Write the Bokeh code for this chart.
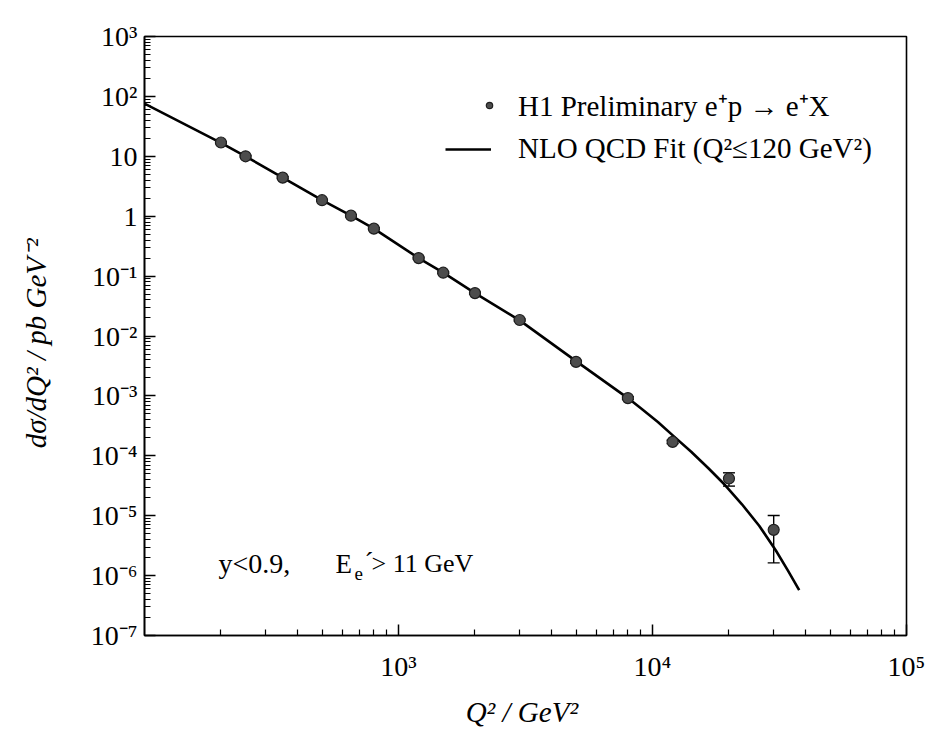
from bokeh.embed import file_html
from bokeh.models import (ColumnDataSource, CustomJSTickFormatter, FixedTicker, Label, Legend,
                          LegendItem, Whisker)
from bokeh.plotting import figure
from bokeh.resources import INLINE

# H1 preliminary e+p -> e+X neutral-current cross section dsigma/dQ^2 (pb GeV^-2)
q2 = [200, 250, 350, 500, 650, 800, 1200, 1500, 2000, 3000, 5000, 8000, 12000, 20000, 30000]
xsec = [17.0, 10.0, 4.4, 1.85, 1.02, 0.62, 0.20, 0.114, 0.052, 0.0185,
        0.0037, 9.2e-4, 1.71e-4, 4.18e-5, 5.8e-6]
xsec_hi = [17.6, 10.3, 4.55, 1.91, 1.06, 0.64, 0.207, 0.118, 0.054, 0.0192,
           0.0039, 9.7e-4, 1.82e-4, 5.2e-5, 1.01e-5]
xsec_lo = [16.4, 9.7, 4.25, 1.79, 0.98, 0.60, 0.193, 0.110, 0.050, 0.0178,
           0.0035, 8.7e-4, 1.60e-4, 3.12e-5, 1.63e-6]

# NLO QCD fit (Q^2 <= 120 GeV^2) extrapolated to high Q^2
fit_q2 = [100, 200, 250, 350, 500, 650, 800, 1200, 1500, 2000, 3000, 5000, 8000,
          9000, 10500, 12200, 14200, 16600, 19300, 22500, 26300, 30600, 34100, 37800]
fit_xsec = [76, 16.8, 10.0, 4.4, 1.85, 1.02, 0.62, 0.20, 0.114, 0.052, 0.0182, 0.0038,
            9.2e-4, 6.2e-4, 3.66e-4, 2.07e-4, 1.17e-4, 6.2e-5, 3.25e-5, 1.55e-5,
            6.8e-6, 2.62e-6, 1.22e-6, 5.7e-7]

# decade tick labels
x_decades = [3, 4, 5]
x_tick_labels = ["10\u00b3", "10\u2074", "10\u2075"]
y_decades = [3, 2, 1, 0, -1, -2, -3, -4, -5, -6, -7]
y_tick_labels = ["10\u00b3", "10\u00b2", "10", "1", "10\u207b\u00b9", "10\u207b\u00b2",
                 "10\u207b\u00b3", "10\u207b\u2074", "10\u207b\u2075", "10\u207b\u2076",
                 "10\u207b\u2077"]

SERIF = "Liberation Serif"
X0, X1 = 100, 1e5
Y0, Y1 = 1e-7, 1e3

p = figure(width=936, height=736, x_axis_type="log", y_axis_type="log",
           x_range=(X0, X1), y_range=(Y0, Y1),
           output_backend="svg", toolbar_location=None,
           min_border_left=144, min_border_right=30, min_border_top=36, min_border_bottom=101)

p.background_fill_color = "white"
p.border_fill_color = "white"
p.outline_line_color = "black"
p.outline_line_width = 1.6
p.xgrid.visible = False
p.ygrid.visible = False

p.xaxis.ticker = FixedTicker(
    ticks=[10.0 ** k for k in x_decades],
    minor_ticks=[m * 10.0 ** k for k in range(2, 5) for m in range(2, 10)])
p.yaxis.ticker = FixedTicker(
    ticks=[10.0 ** k for k in y_decades],
    minor_ticks=[m * 10.0 ** k for k in range(-7, 3) for m in range(2, 10)])

decade_code = """
const k = Math.round(Math.log10(tick));
const i = exps.indexOf(k);
return i < 0 ? '' : labels[i];
"""
p.xaxis.formatter = CustomJSTickFormatter(args=dict(exps=x_decades, labels=x_tick_labels),
                                          code=decade_code)
p.yaxis.formatter = CustomJSTickFormatter(args=dict(exps=y_decades, labels=y_tick_labels),
                                          code=decade_code)

for ax in (p.xaxis, p.yaxis):
    ax.axis_line_width = 1.6
    ax.axis_line_color = "black"
    ax.major_tick_in = 11
    ax.major_tick_out = 0
    ax.minor_tick_in = 6
    ax.minor_tick_out = 0
    ax.major_tick_line_width = 1.5
    ax.minor_tick_line_width = 1.2
    ax.major_tick_line_color = "black"
    ax.minor_tick_line_color = "black"
    ax.major_label_text_font = SERIF
    ax.major_label_text_font_size = "28px"
    ax.major_label_text_color = "black"
    ax.axis_label_text_font = SERIF
    ax.axis_label_text_font_style = "italic"
    ax.axis_label_text_font_size = "29px"
    ax.axis_label_text_color = "black"
    ax.axis_label_align = "center"

p.xaxis.major_label_standoff = 15
p.yaxis.major_label_standoff = 7
p.xaxis.axis_label = "Q\u00b2  / GeV\u00b2"
p.yaxis.axis_label = "d\u03c3/dQ\u00b2   / pb GeV\u207b\u00b2"
p.xaxis.axis_label_standoff = 11
p.yaxis.axis_label_standoff = 36

# fit curve
fit_line = p.line(fit_q2, fit_xsec, line_color="black", line_width=2.6, line_join="round")

# data with error bars
src = ColumnDataSource(dict(q2=q2, xsec=xsec, hi=xsec_hi, lo=xsec_lo))
err = Whisker(source=src, base="q2", upper="hi", lower="lo", dimension="height",
              line_color="black", line_width=1.4)
err.upper_head.size = 12
err.lower_head.size = 12
err.upper_head.line_width = 1.4
err.lower_head.line_width = 1.4
p.add_layout(err)
pts = p.scatter("q2", "xsec", source=src, size=11, fill_color="#4d4d4d",
                line_color="#1e1e1e", line_width=1.2)


def lab(text, dx, dy, size):
    p.add_layout(Label(x=X0, y=Y0, x_offset=dx, y_offset=dy, text=text,
                       text_font=SERIF, text_font_size=size, text_align="left",
                       text_baseline="middle", text_color="black"))


# kinematic cuts
lab("y<0.9,", 74, 72, "28px")
lab("E", 191, 72, "27px")
lab("e", 210, 62, "19px")
lab("\u00b4", 220, 74, "27px")
lab("> 11 GeV", 227, 72, "26px")

# legends
leg_pts = Legend(items=[LegendItem(label="H1 Preliminary e\u207ap \u2192 e\u207aX", renderers=[pts])],
                 location=(335, 509), glyph_width=16, glyph_height=20, label_standoff=21,
                 padding=2, border_line_alpha=0, background_fill_alpha=0,
                 label_text_font=SERIF, label_text_font_size="29px", label_text_color="black")
leg_fit = Legend(items=[LegendItem(label="NLO QCD Fit (Q\u00b2\u2264120 GeV\u00b2)", renderers=[fit_line])],
                 location=(299, 468), glyph_width=46, glyph_height=20, label_standoff=27,
                 padding=2, border_line_alpha=0, background_fill_alpha=0,
                 label_text_font=SERIF, label_text_font_size="29px", label_text_color="black")
p.add_layout(leg_pts)
p.add_layout(leg_fit)

open("out.html", "w").write(file_html(p, INLINE))
